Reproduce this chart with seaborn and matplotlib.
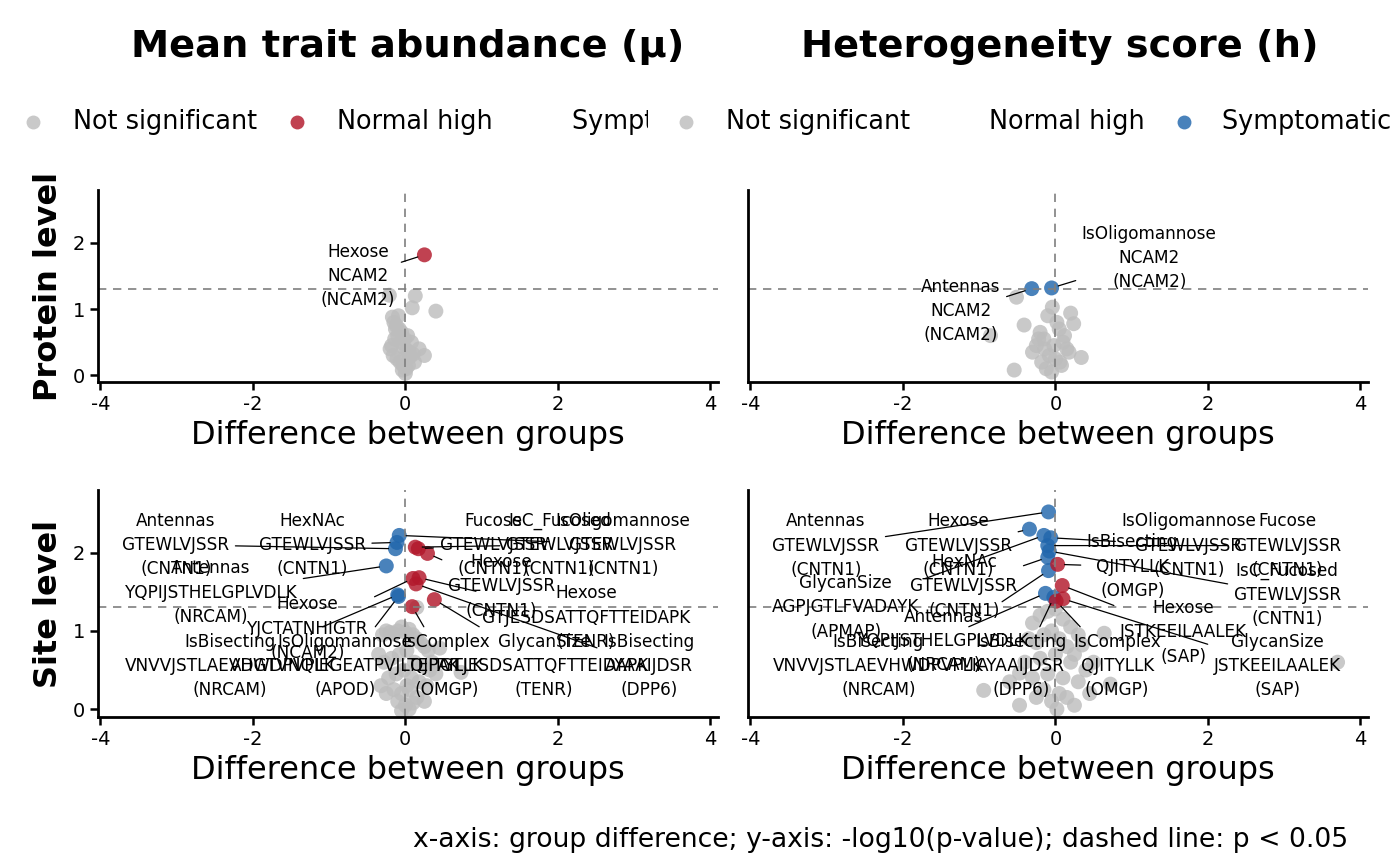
import numpy as np
import pandas as pd
import seaborn as sns
import matplotlib.pyplot as plt
from matplotlib.lines import Line2D
from matplotlib.transforms import Bbox, TransformedBbox

# ---- data ----
# protein level, mean trait abundance
pm_grey_x = [-0.21, 0.13, 0.40, 0.09, -0.17, -0.15, -0.12, -0.08, -0.05, -0.18, -0.14, -0.10,
             -0.06, -0.02, 0.02, 0.05, -0.16, -0.11, -0.07, -0.03, 0.01, 0.06, 0.10, 0.25,
             0.18, 0.00, -0.04, 0.03, -0.09, -0.13, 0.08, -0.20, 0.12, -0.01, 0.04]
pm_grey_y = [1.21, 1.20, 0.97, 1.02, 0.88, 0.80, 0.75, 0.70, 0.65, 0.45, 0.55, 0.60,
             0.50, 0.42, 0.38, 0.35, 0.30, 0.25, 0.20, 0.15, 0.10, 0.28, 0.32, 0.30,
             0.40, 0.03, 0.08, 0.60, 0.90, 0.70, 0.50, 0.40, 0.20, 0.55, 0.15]
pm_sig_x = [0.25]
pm_sig_y = [1.82]
pm_group = ['Normal high']
pm_trait = ['Hexose']
pm_peptide = ['NCAM2']
pm_protein = ['NCAM2']
pm_lab_x = [-0.62]
pm_lab_y = [1.50]

# protein level, heterogeneity
ph_grey_x = [-0.51, -0.04, 0.20, 0.24, -0.41, -0.54, 0.34, -0.85, -0.10, -0.20, -0.15, 0.05,
             0.10, -0.25, -0.30, 0.15, 0.00, -0.08, 0.08, -0.18, -0.12, 0.12, -0.05, 0.02,
             -0.22, 0.18, -0.02, -0.14, 0.06]
ph_grey_y = [1.18, 1.03, 0.94, 0.78, 0.76, 0.08, 0.27, 0.60, 0.90, 0.65, 0.55, 0.70,
             0.50, 0.45, 0.35, 0.40, 0.25, 0.30, 0.15, 0.20, 0.10, 0.60, 0.05, 0.80,
             0.55, 0.35, 0.45, 0.40, 0.20]
ph_sig_x = [-0.31, -0.05]
ph_sig_y = [1.31, 1.32]
ph_group = ['Symptomatic high', 'Symptomatic high']
ph_trait = ['Antennas', 'IsOligomannose']
ph_peptide = ['NCAM2', 'NCAM2']
ph_protein = ['NCAM2', 'NCAM2']
ph_lab_x = [-1.24, 1.23]
ph_lab_y = [0.97, 1.77]

# site level, mean trait abundance
sm_grey_x = [0.15, -0.30, -0.25, -0.20, -0.15, -0.10, -0.05, 0.00, 0.05, 0.10, 0.15, 0.20,
             0.25, 0.30, 0.45, 0.73, -0.35, -0.28, -0.18, -0.08, 0.02, 0.12, 0.22, 0.32,
             -0.22, -0.12, -0.02, 0.08, 0.18, 0.28, -0.15, -0.05, 0.05, 0.15, -0.10, 0.00,
             0.10, -0.05, 0.05, 0.02, -0.25, 0.35, 0.40, -0.32, 0.25]
sm_grey_y = [1.30, 0.95, 1.00, 0.98, 0.96, 1.00, 1.05, 0.98, 1.02, 0.95, 0.90, 0.85,
             0.80, 0.75, 0.78, 0.47, 0.70, 0.60, 0.65, 0.70, 0.75, 0.60, 0.55, 0.50,
             0.40, 0.45, 0.50, 0.40, 0.35, 0.30, 0.25, 0.20, 0.25, 0.15, 0.10, 0.05,
             0.08, -0.02, 0.00, 0.30, 0.20, 0.60, 0.45, 0.30, 0.10]
sm_sig_x = [-0.08, -0.11, -0.13, -0.25, -0.10, -0.09, 0.17, 0.13, 0.29, 0.10, 0.18, 0.14, 0.38, 0.09]
sm_sig_y = [2.22, 2.13, 2.05, 1.83, 1.46, 1.44, 2.05, 2.07, 1.99, 1.67, 1.68, 1.60, 1.40, 1.31]
sm_group = ['Symptomatic high'] * 6 + ['Normal high'] * 8
sm_trait = ['IsOligomannose', 'HexNAc', 'Antennas', 'Antennas', 'IsBisecting', 'IsOligomannose',
            'Fucose', 'IsC_Fucosed', 'Hexose', 'Hexose', 'Hexose', 'IsBisecting', 'GlycanSize',
            'IsComplex']
sm_peptide = ['GTEWLVJSSR', 'GTEWLVJSSR', 'GTEWLVJSSR', 'YQPIJSTHELGPLVDLK',
              'VNVVJSTLAEVHWDPVPLK', 'ADGTVNQIEGEATPVJLTEPAK', 'GTEWLVJSSR', 'GTEWLVJSSR',
              'GTEWLVJSSR', 'YJCTATNHIGTR', 'GTJESDSATTQFTTEIDAPK', 'AYAAIJDSR',
              'GTJESDSATTQFTTEIDAPK', 'QJITYLLK']
sm_protein = ['CNTN1', 'CNTN1', 'CNTN1', 'NRCAM', 'NRCAM', 'APOD', 'CNTN1', 'CNTN1',
              'CNTN1', 'NCAM2', 'TENR', 'DPP6', 'TENR', 'OMGP']
sm_lab_x = [2.85, -1.22, -3.01, -2.55, -2.30, -0.79, 1.15, 2.02, 1.26, -1.28, 2.37, 3.19, 1.82, 0.54]
sm_lab_y = [2.10, 2.10, 2.10, 1.49, 0.55, 0.55, 2.10, 2.10, 1.57, 1.03, 1.17, 0.55, 0.55, 0.55]

# site level, heterogeneity
sh_grey_x = [3.70, -0.94, -0.47, -0.47, 0.72, 0.64, 0.35, -0.30, -0.20, -0.10, 0.00, 0.10,
             0.20, 0.30, -0.35, -0.25, -0.15, -0.05, 0.05, 0.15, 0.25, -0.40, -0.20, 0.00,
             0.20, 0.40, -0.30, -0.10, 0.10, 0.30, -0.15, 0.05, 0.15, -0.05, 0.02, 0.45,
             -0.60, 0.50, -0.25, 0.25]
sh_grey_y = [0.60, 0.24, 0.46, 0.05, 0.32, 0.97, 0.82, 1.10, 1.20, 1.25, 1.28, 1.15,
             1.05, 0.95, 0.90, 0.85, 0.95, 1.00, 0.90, 0.80, 0.70, 0.60, 0.65, 0.70,
             0.60, 0.50, 0.40, 0.45, 0.40, 0.35, 0.25, 0.20, 0.15, 0.10, 0.00, 0.20,
             0.35, 0.60, 0.15, 0.05]
sh_sig_x = [-0.09, -0.34, -0.15, -0.06, -0.10, -0.08, -0.10, -0.09, -0.13, -0.02, 0.03, 0.09, 0.10, 0.01]
sh_sig_y = [2.52, 2.30, 2.22, 2.19, 2.09, 2.02, 1.94, 1.77, 1.48, 1.43, 1.85, 1.58, 1.41, 1.38]
sh_group = ['Symptomatic high'] * 10 + ['Normal high'] * 4
sh_trait = ['Antennas', 'Hexose', 'GlycanSize', 'IsOligomannose', 'Fucose', 'IsC_Fucosed',
            'HexNAc', 'Antennas', 'IsBisecting', 'IsBisecting', 'IsBisecting', 'Hexose',
            'GlycanSize', 'IsComplex']
sh_peptide = ['GTEWLVJSSR', 'GTEWLVJSSR', 'AGPJGTLFVADAYK', 'GTEWLVJSSR', 'GTEWLVJSSR',
              'GTEWLVJSSR', 'GTEWLVJSSR', 'YQPIJSTHELGPLVDLK', 'VNVVJSTLAEVHWDPVPLK',
              'AYAAIJDSR', 'QJITYLLK', 'JSTKEEILAALEK', 'JSTKEEILAALEK', 'QJITYLLK']
sh_protein = ['CNTN1', 'CNTN1', 'APMAP', 'CNTN1', 'CNTN1', 'CNTN1', 'CNTN1', 'NRCAM',
              'NRCAM', 'DPP6', 'OMGP', 'SAP', 'SAP', 'OMGP']
sh_lab_x = [-3.01, -1.27, -2.75, 1.75, 3.04, 3.04, -1.20, -1.47, -2.32, -0.45, 1.01, 1.68, 2.91, 0.81]
sh_lab_y = [2.09, 2.09, 1.30, 2.09, 2.09, 1.46, 1.57, 0.87, 0.55, 0.55, 1.82, 0.98, 0.55, 0.55]

groups = ['Not significant', 'Normal high', 'Symptomatic high']
colours = {'Not significant': '#BDBDBD', 'Normal high': '#B2182B', 'Symptomatic high': '#2166AC'}

col_titles = ['Mean trait abundance (\u03bc)', 'Heterogeneity score (h)']
row_titles = ['Protein level', 'Site level']
caption = 'x-axis: group difference; y-axis: -log10(p-value); dashed line: p < 0.05'

panels = [
    (pm_grey_x, pm_grey_y, pm_sig_x, pm_sig_y, pm_group, pm_trait, pm_peptide, pm_protein, pm_lab_x, pm_lab_y),
    (ph_grey_x, ph_grey_y, ph_sig_x, ph_sig_y, ph_group, ph_trait, ph_peptide, ph_protein, ph_lab_x, ph_lab_y),
    (sm_grey_x, sm_grey_y, sm_sig_x, sm_sig_y, sm_group, sm_trait, sm_peptide, sm_protein, sm_lab_x, sm_lab_y),
    (sh_grey_x, sh_grey_y, sh_sig_x, sh_sig_y, sh_group, sh_trait, sh_peptide, sh_protein, sh_lab_x, sh_lab_y),
]

sns.set_theme(style='ticks')
plt.rcParams['font.family'] = ['DejaVu Sans']
plt.rcParams['axes.unicode_minus'] = False
plt.rcParams['text.color'] = 'black'
plt.rcParams['axes.labelcolor'] = 'black'

fig = plt.figure(figsize=(7, 4.325), dpi=200)

# axes boxes in figure fractions [left, bottom, width, height]
boxes = [
    [0.070, 0.5584, 0.4429, 0.2220],
    [0.5343, 0.5584, 0.4429, 0.2220],
    [0.070, 0.1711, 0.4429, 0.2624],
    [0.5343, 0.1711, 0.4429, 0.2624],
]

for i, (gx, gy, sx, sy, grp, trait, pep, prot, lx, ly) in enumerate(panels):
    ax = fig.add_axes(boxes[i])
    df = pd.concat([
        pd.DataFrame({'diff': gx, 'logp': gy, 'group': 'Not significant'}),
        pd.DataFrame({'diff': sx, 'logp': sy, 'group': grp}),
    ], ignore_index=True)
    sns.scatterplot(data=df, x='diff', y='logp', hue='group', hue_order=groups,
                    palette=colours, s=29, alpha=0.82, linewidth=0, legend=False, ax=ax)
    ax.axhline(-np.log10(0.05), color='#7F7F7F', lw=0.6, ls=(0, (5, 4)))
    ax.axvline(0, color='#7F7F7F', lw=0.6, ls=(0, (5, 4)))

    for j in range(len(sx)):
        label = f'{trait[j]}\n{pep[j]}\n({prot[j]})'
        ax.annotate(label, xy=(sx[j], sy[j]), xytext=(lx[j], ly[j]), textcoords='data',
                    ha='center', va='center', fontsize=6.1, linespacing=1.45, color='black',
                    arrowprops=dict(arrowstyle='-', color='black', lw=0.45,
                                    shrinkA=0, shrinkB=2.5))

    ax.set_xlim(-4.03, 4.1)
    ax.set_ylim(-0.1, 2.8)
    ax.set_xticks([-4, -2, 0, 2, 4])
    ax.set_yticks([0, 1, 2])
    sns.despine(ax=ax)
    for side in ['left', 'bottom']:
        ax.spines[side].set_color('black')
        ax.spines[side].set_linewidth(1.0)
    ax.tick_params(axis='both', length=2.75, width=0.9, color='black',
                   labelsize=7, labelcolor='black', pad=2)
    ax.set_xlabel('Difference between groups', fontsize=11.5, labelpad=2, color='black')
    if i % 2 == 0:
        ax.set_ylabel(row_titles[i // 2], fontsize=11.5, fontweight='bold', labelpad=3,
                      color='black')
    else:
        ax.set_ylabel('')
        ax.tick_params(axis='y', left=False, labelleft=False)

# column titles
fig.text(408 / 1400, 1 - 47 / 865, col_titles[0], ha='center', va='center',
         fontsize=13.8, fontweight='bold', color='black')
fig.text(1060 / 1400, 1 - 47 / 865, col_titles[1], ha='center', va='center',
         fontsize=13.8, fontweight='bold', color='black')

# legends (one per column, clipped at the column edge like the original)
legend_y = 1 - 122 / 865
legend_items = [
    (648, [(33, 73, 'Not significant', True), (297, 337, 'Normal high', True),
           (None, 572, 'Symptomatic high', False)]),
    (1400, [(686, 726, 'Not significant', True), (None, 989, 'Normal high', False),
            (1184, 1222, 'Symptomatic high', True)]),
]
for clip_px, items in legend_items:
    clip = TransformedBbox(Bbox([[0, 0], [clip_px / 1400, 1]]), fig.transFigure)
    for mx, tx, lab, show in items:
        if show:
            fig.add_artist(Line2D([mx / 1400], [legend_y], marker='o', ms=5, ls='none',
                                  color=colours[lab], alpha=0.82, mew=0,
                                  transform=fig.transFigure))
        t = fig.text(tx / 1400, legend_y, lab, ha='left', va='center', fontsize=9.2,
                     color='black')
        t.set_clip_box(clip)
        t.set_clip_on(True)

fig.text(1348 / 1400, 1 - 840 / 865, caption, ha='right', va='center', fontsize=9.6,
         color='black')

fig.savefig('out.png', dpi=200, facecolor='white')
